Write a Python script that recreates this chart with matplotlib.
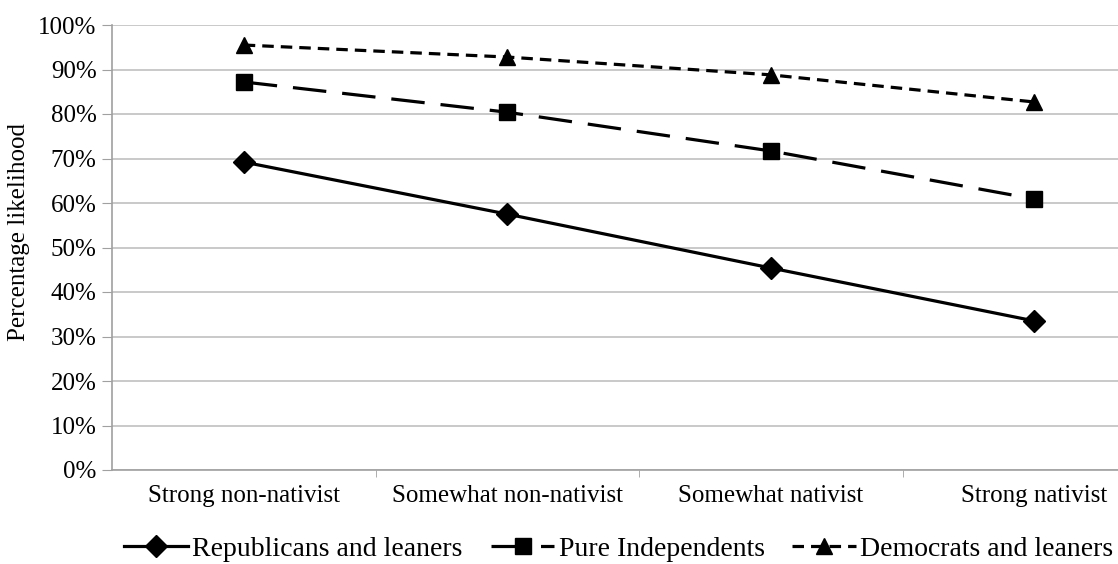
import matplotlib.pyplot as plt
from matplotlib.ticker import FixedLocator, PercentFormatter

categories = ["Strong non-nativist", "Somewhat non-nativist", "Somewhat nativist", "Strong nativist"]
republicans = [69.2, 57.5, 45.4, 33.5]
independents = [87.2, 80.4, 71.7, 60.9]
democrats = [95.5, 92.8, 88.8, 82.7]

plt.rcParams['font.family'] = ['Liberation Serif', 'DejaVu Serif']

fig = plt.figure(figsize=(11.18, 5.64), dpi=100)
ax = fig.add_axes([112 / 1118, 1 - 470 / 564, 1 - 112 / 1118, (470 - 25) / 564])

x = list(range(len(categories)))
ax.plot(x, republicans, color='black', lw=2.3, marker='D', ms=11,
        label='Republicans and leaners')
ax.plot(x, independents, color='black', lw=2.3, marker='s', ms=11.5,
        dashes=(10.5, 5), label='Pure Independents')
ax.plot(x, democrats, color='black', lw=2.3, marker='^', ms=12,
        dashes=(3.6, 2.2), label='Democrats and leaners')

ax.set_ylim(0, 100)
ax.set_xlim(-0.5, -0.5 + (1118 - 112) / 263.5)
ax.set_yticks(range(0, 101, 10))
ax.yaxis.set_major_formatter(PercentFormatter(decimals=0))
ax.set_xticks(x)
ax.set_xticklabels(categories)
ax.xaxis.set_minor_locator(FixedLocator([0.5, 1.5, 2.5]))

ax.grid(axis='y', color='#c0c0c0', lw=1.2)
ax.set_axisbelow(True)
for s in ['top', 'right']:
    ax.spines[s].set_visible(False)
for s in ['left', 'bottom']:
    ax.spines[s].set_color('#a0a0a0')
    ax.spines[s].set_linewidth(1.2)

ax.tick_params(axis='y', length=7, color='#a0a0a0', labelsize=18, pad=4)
ax.tick_params(axis='x', which='major', length=0, labelsize=18, pad=11)
ax.tick_params(axis='x', which='minor', length=5, color='#a0a0a0')

ax.set_ylabel('Percentage likelihood', fontsize=18)
ax.yaxis.set_label_coords((30 - 112) / 1006, (470 - 232) / 445)

ax.legend(loc='center', bbox_to_anchor=((619 - 112) / 1006, -0.178), ncol=3,
          frameon=False, fontsize=20, handlelength=2.3, handletextpad=0.15,
          columnspacing=1.0, borderaxespad=0)

fig.savefig('out.png', dpi=100)
